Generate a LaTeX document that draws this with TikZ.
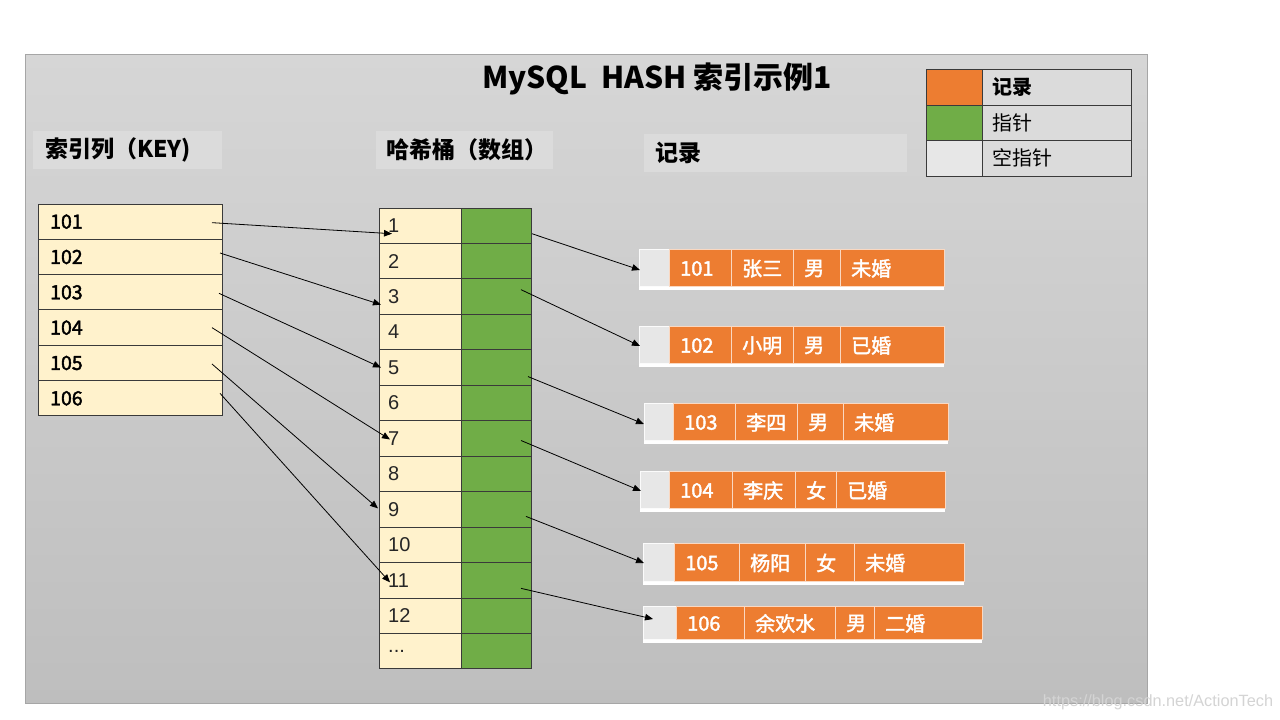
\documentclass[tikz,border=0pt]{standalone}
\usepackage{fontspec}
\setmainfont{Noto Sans CJK SC}
\newfontfamily\numfont{Liberation Sans}
\newfontfamily\medfont{Noto Sans CJK SC}[FakeBold=2]
\usetikzlibrary{arrows.meta,calc}
\definecolor{rec}{HTML}{ED7D31}
\definecolor{ptr}{HTML}{70AD47}
\definecolor{nul}{HTML}{E7E7E7}
\definecolor{keyc}{HTML}{FFF2CC}
\definecolor{lab}{HTML}{DBDBDB}
\definecolor{bgtop}{HTML}{D6D6D6}
\definecolor{bgbot}{HTML}{BEBEBE}
\definecolor{edge}{HTML}{3A3A3A}
\newcommand\bucketdots{...}
\begin{document}
\begin{tikzpicture}[x=1pt,y=-1pt,
  box/.style={anchor=north west, inner sep=0pt, outer sep=0pt},
  labbox/.style={box, fill=lab},
  labtext/.style={anchor=west, inner sep=0pt, font=\bfseries\fontsize{23}{26}\selectfont},
  keycell/.style={box, draw=edge, line width=1pt, fill=keyc, minimum width=184, minimum height=35.33},
  keytext/.style={anchor=west, inner sep=0pt, font=\medfont\fontsize{19.5}{22}\selectfont},
  bcell/.style={box, draw=edge, line width=1pt, fill=keyc, minimum width=82, minimum height=35.46},
  gcell/.style={box, draw=edge, line width=1pt, fill=ptr, minimum width=70, minimum height=35.46},
  btext/.style={anchor=west, inner sep=0pt, text=black!85, font=\numfont\fontsize{20}{23}\selectfont},
  nulcell/.style={box, fill=nul, draw=white!85!nul, line width=0.8pt},
  reccell/.style={box, fill=rec, draw=white!70!rec, line width=0.8pt},
  rectext/.style={anchor=west, inner sep=0pt, text=white, font=\medfont\fontsize{20}{23}\selectfont},
  legcell/.style={box, draw=edge, line width=1pt},
  legtext/.style={anchor=west, inner sep=0pt, font=\fontsize{20}{23}\selectfont},
  arr/.style={-{Triangle[length=8pt,width=6.5pt]}, line width=0.8pt, black}
]
\useasboundingbox (0,0) rectangle (1280,720);
\fill[white] (0,0) rectangle (1280,720);
\shade[top color=bgtop, bottom color=bgbot, draw=black!35] (25,54) rectangle (1147,703);

% title
\node[inner sep=0pt, font=\bfseries\fontsize{30}{34}\selectfont] (title) at (657,79) {MySQL\ \ HASH 索引示例1};

% column labels
\node[labbox, minimum width=189, minimum height=38] (keylab) at (33,131) {};
\node[labtext] (keylabt) at ($(keylab.west)+(12,0)$) {索引列（KEY)};
\node[labbox, minimum width=177, minimum height=38] (buclab) at (376,131) {};
\node[labtext] (buclabt) at ($(buclab.west)+(10,0)$) {哈希桶（数组）};
\node[labbox, minimum width=263, minimum height=38] (reclab) at (644,134) {};
\node[labtext] (reclabt) at ($(reclab.west)+(11,0)$) {记录};

% legend
\node[legcell, fill=rec, minimum width=56, minimum height=36] (lg1) at (926,69) {};
\node[legcell, fill=lab, minimum width=149, minimum height=36] (lt1) at (982,69) {};
\node[legtext, font=\bfseries\fontsize{20}{23}\selectfont] (lt1t) at ($(lt1.west)+(10,0)$) {记录};
\node[legcell, fill=ptr, minimum width=56, minimum height=35] (lg2) at (926,105) {};
\node[legcell, fill=lab, minimum width=149, minimum height=35] (lt2) at (982,105) {};
\node[legtext] (lt2t) at ($(lt2.west)+(10,0)$) {指针};
\node[legcell, fill=nul, minimum width=56, minimum height=36] (lg3) at (926,140) {};
\node[legcell, fill=lab, minimum width=149, minimum height=36] (lt3) at (982,140) {};
\node[legtext] (lt3t) at ($(lt3.west)+(10,0)$) {空指针};

% key column
\foreach \i/\t in {1/101,2/102,3/103,4/104,5/105,6/106}{
  \node[keycell] (k\i) at (38,{204+(\i-1)*35.33}) {};
  \node[keytext] (kt\i) at ($(k\i.west)+(12,0)$) {\t};
}

% hash buckets
\foreach \i/\t in {1/1,2/2,3/3,4/4,5/5,6/6,7/7,8/8,9/9,10/10,11/11,12/12,13/\bucketdots}{
  \node[bcell] (b\i) at (379,{208+(\i-1)*35.46}) {};
  \node[gcell] (g\i) at (461,{208+(\i-1)*35.46}) {};
  \node[btext] (bt\i) at ($(b\i.west)+(9,0)$) {\t};
}

% records
\foreach \n/\t/\b/\xa/\xb/\xc/\xd/\xe/\xf/\ta/\tb/\tc/\td in {
  1/249/286/639/669/731/793/840/944/101/张三/男/未婚,
  2/326/363/639/669/731/793/840/944/102/小明/男/已婚,
  3/403/440/644/673/735/797/843/948/103/李四/男/未婚,
  4/471/508/640/669/732/795/836/945/104/李庆/女/已婚,
  5/543/581/643/674/739/805/854/964/105/杨阳/女/未婚,
  6/606/639/643/676/744/835/874/982/106/余欢水/男/二婚}{
  \fill[white] (\xa,\t) rectangle (\xf,\b+4);
  \node[nulcell, minimum width={\xb-\xa}, minimum height={\b-\t}] (r\n) at (\xa,\t) {};
  \node[reccell, minimum width={\xc-\xb}, minimum height={\b-\t}] (r\n a) at (\xb,\t) {};
  \node[reccell, minimum width={\xd-\xc}, minimum height={\b-\t}] (r\n b) at (\xc,\t) {};
  \node[reccell, minimum width={\xe-\xd}, minimum height={\b-\t}] (r\n c) at (\xd,\t) {};
  \node[reccell, minimum width={\xf-\xe}, minimum height={\b-\t}] (r\n d) at (\xe,\t) {};
  \node[rectext] (r\n at) at ($(r\n a.west)+(11,1)$) {\ta};
  \node[rectext] (r\n bt) at ($(r\n b.west)+(11,1)$) {\tb};
  \node[rectext] (r\n ct) at ($(r\n c.west)+(11,1)$) {\tc};
  \node[rectext] (r\n dt) at ($(r\n d.west)+(11,1)$) {\td};
}

% key -> bucket
\draw[arr] ($(k1.east)+(-10,1)$) -- ($(b1.west)+(13,8)$);
\draw[arr] ($(k2.east)+(-2,-4)$) -- ($(b3.west)+(2,8)$);
\draw[arr] ($(k3.east)+(-3,1)$) -- ($(b5.west)+(2,0)$);
\draw[arr] ($(k4.east)+(-10,0)$) -- ($(b7.west)+(11,1)$);
\draw[arr] ($(k5.east)+(-10,1)$) -- ($(b9.west)+(-1,-1)$);
\draw[arr] ($(k6.east)+(-2,-5)$) -- ($(b11.west)+(11,2)$);

% bucket -> record
\draw[arr] ($(g1.east)+(1,8)$) -- ($(r1.west)+(1,2.5)$);
\draw[arr] ($(g3.east)+(-10,-7)$) -- ($(r2.west)+(1,1.5)$);
\draw[arr] ($(g5.east)+(-3,9)$) -- ($(r3.west)+(0,2.5)$);
\draw[arr] ($(g7.east)+(-10,2)$) -- ($(r4.west)+(1,1.5)$);
\draw[arr] ($(g9.east)+(-5,7)$) -- ($(r5.west)+(1,1)$);
\draw[arr] ($(g11.east)+(-10,8)$) -- ($(r6.west)+(10,-3.5)$);

% watermark
\node[inner sep=0pt, text=black!17, font=\numfont\fontsize{16.3}{20}\selectfont] (wm) at (1158,702) {https://blog.csdn.net/ActionTech};
\end{tikzpicture}
\end{document}
